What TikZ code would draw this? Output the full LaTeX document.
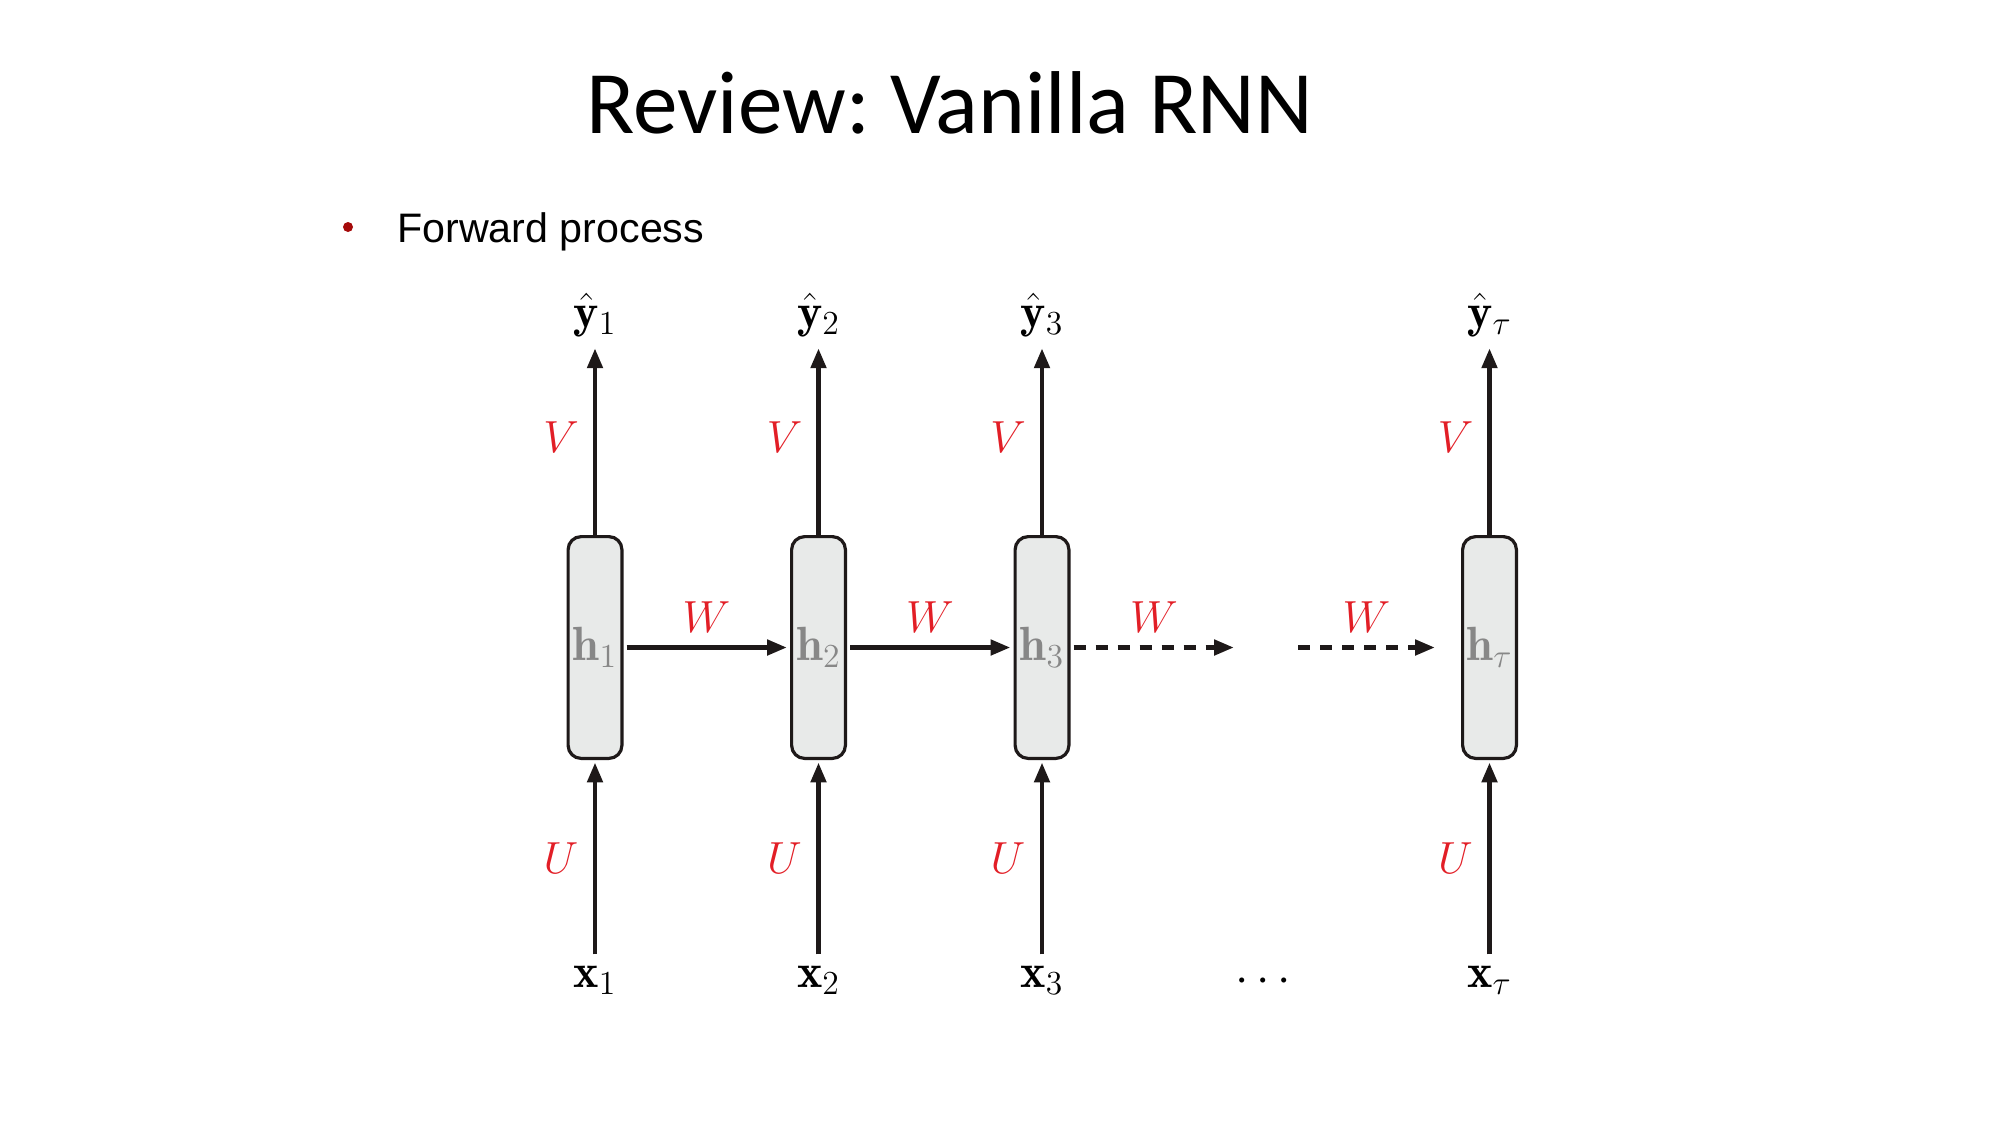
\RequirePackage{fix-cm}
\documentclass[tikz,border=0pt]{standalone}
\usepackage{fontspec}
\newfontfamily\titlefont{Carlito}
\newfontfamily\bodyfont{Liberation Sans}
\usetikzlibrary{arrows.meta}
\definecolor{lblred}{RGB}{226,30,38}
\definecolor{boxfill}{RGB}{232,234,233}
\definecolor{hgray}{RGB}{135,135,135}
\definecolor{linecol}{RGB}{30,25,25}
\definecolor{bulletred}{RGB}{165,10,10}
\frenchspacing
\begin{document}
\begin{tikzpicture}[x=0.5pt,y=-0.5pt,
  cell/.style={draw=linecol, line width=1.6pt, fill=boxfill, rounded corners=6.5pt,
    minimum width=26.9pt, minimum height=110.9pt, inner sep=0pt, text=hgray,
    font=\fontsize{24}{28}\selectfont},
  lbl/.style={text=lblred, inner sep=0pt, font=\fontsize{22.5}{26}\selectfont},
  io/.style={inner sep=5.5pt, font=\fontsize{24}{28}\selectfont},
  conn/.style={draw=linecol, line width=2.4pt, -{Triangle[length=10pt,width=7.5pt]}},
  dconn/.style={conn, dash pattern=on 6pt off 5pt}
]
\useasboundingbox (0,0) rectangle (2000,1125);

\node[font=\titlefont\fontsize{44.6}{50}\selectfont, anchor=base, inner sep=0pt] (title) at (950,133) {Review: Vanilla RNN};
\node[circle, fill=bulletred, minimum size=5pt, inner sep=0pt] (bullet) at (348,227) {};
\node[anchor=base west, font=\bodyfont\fontsize{20.6}{25}\selectfont, inner sep=0pt] (fwd) at (397,242) {Forward process};

% hidden cells
\node[cell] (h1) at (595,647.5) {$\mathbf{h}_1$};
\node[cell] (h2) at (818.5,647.5) {$\mathbf{h}_2$};
\node[cell] (h3) at (1042,647.5) {$\mathbf{h}_3$};
\node[cell] (ht) at (1489.5,647.5) {$\mathbf{h}_\tau$};

% outputs
\node[io] (y1) at (595,315) {$\hat{\mathbf{y}}_1$};
\node[io] (y2) at (818.5,315) {$\hat{\mathbf{y}}_2$};
\node[io] (y3) at (1042,315) {$\hat{\mathbf{y}}_3$};
\node[io] (yt) at (1489.5,315) {$\hat{\mathbf{y}}_\tau$};

% inputs
\node[io] (x1) at (595,980) {$\mathbf{x}_1$};
\node[io] (x2) at (818.5,980) {$\mathbf{x}_2$};
\node[io] (x3) at (1042,980) {$\mathbf{x}_3$};
\node[io] (xt) at (1489.5,980) {$\mathbf{x}_\tau$};
\node[io] (dots) at (1263,982) {$\cdots$};

% V / U labels
\foreach \n/\x in {1/561,2/784.5,3/1008,t/1455.5}{
  \node[lbl] (V\n) at (\x,437) {$V$};
  \node[lbl] (U\n) at (\x,858) {$U$};
}
% W labels
\node[lbl] (W1) at (706.5,617) {$W$};
\node[lbl] (W2) at (930,617) {$W$};
\node[lbl] (W3) at (1154,617) {$W$};
\node[lbl] (W4) at (1366.5,617) {$W$};

% arrows
\foreach \n in {1,2,3,t}{
  \draw[conn, shorten >=1.2pt] (x\n.north) -- (h\n.south);
  \draw[conn] (h\n.north) -- (y\n.south);
}
\draw[conn, shorten <=1.5pt, shorten >=1.5pt] (h1.east) -- (h2.west);
\draw[conn, shorten <=1.5pt, shorten >=1.5pt] (h2.east) -- (h3.west);
\coordinate (d1end) at (1234,647.5);
\coordinate (d2start) at (1298,647.5);
\coordinate (d2end) at (1435,647.5);
\draw[dconn, shorten <=1.5pt] (h3.east) -- (d1end);
\draw[dconn] (d2start) -- (d2end);
\end{tikzpicture}
\end{document}
